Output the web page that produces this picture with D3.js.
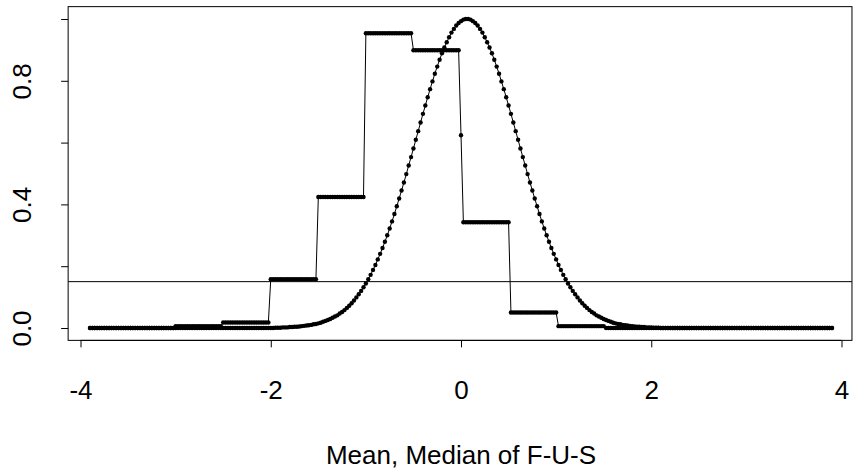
<!DOCTYPE html>
<html>
<head>
<meta charset="utf-8">
<script src="https://cdn.jsdelivr.net/npm/d3@7"></script>
<style>
  body { margin: 0; background: #fff; }
  svg text { font-family: "Liberation Sans", Arial, sans-serif; }
</style>
</head>
<body>
<div id="myspace"></div>
<script>
// sample grid (evenly spaced x, -3.9 .. 3.9)
var xStart = -3.9, xStep = 0.025, nPts = 313;

// bell shaped curve at every grid point
var normVals = [
  0,0,0,0,0,0,0,0,0,0, 0,0,0,0,0,0,0,0,0,0, 0,0,0,0,0,0,0,0,0,0,
  0,0,0,0,0,0,0,0,0,0, 0,0,0,0,0,0,0,0,0,0, 0,0,0,0,0,0,0,0,0,0,
  0,0,0,0,0,0,0,0,0,0, 0,0,0,0,0,0,0,0,
  .001,.001,.001,.002,.002,.002,.003,.003,.004,.004,
  .005,.006,.007,.008,.009,.010,.012,.013,.015,.017,
  .020,.023,.026,.029,.033,.037,.041,.047,.052,.058,
  .065,.072,.080,.089,.099,.109,.120,.132,.144,.158,
  .172,.188,.204,.222,.240,.259,.279,.300,.322,.345,
  .369,.394,.419,.445,.471,.498,.526,.553,.581,.609,
  .637,.665,.693,.720,.747,.773,.798,.823,.846,.868,
  .889,.908,.925,.941,.956,.968,.979,.987,.993,.998,
  1.000,
  1.000,
  .998,.993,.987,.979,.968,.956,.941,.925,.908,.889,
  .868,.846,.823,.798,.773,.747,.720,.693,.665,.637,
  .609,.581,.553,.526,.498,.471,.445,.419,.394,.369,
  .345,.322,.300,.279,.259,.240,.222,.204,.188,.172,
  .158,.144,.132,.120,.109,.099,.089,.080,.072,.065,
  .058,.052,.047,.041,.037,.033,.029,.026,.023,.020,
  .017,.015,.013,.012,.010,.009,.008,.007,.006,.005,
  .004,.004,.003,.003,.002,.002,.002,.001,.001,.001,
  0,0,0,0,0,0,0,0,0,0, 0,0,0,0,0,0,0,0,0,0, 0,0,0,0,0,0,0,0,0,0,
  0,0,0,0,0,0,0,0,0,0, 0,0,0,0,0,0,0,0,0,0, 0,0,0,0,0,0,0,0,0,0,
  0,0,0,0,0,0,0,0,0,0, 0,0,0
];

// step curve: edges and the level on each piece (x=0 has its own value)
var stepEdges = [-3, -2.5, -2, -1.5, -1, -0.5, 0, 0.5, 1, 1.5];
var stepLevels = [0, 0.006, 0.018, 0.158, 0.424, 0.954, 0.899, 0.342, 0.050, 0.006, 0];
var stepAtZero = 0.624;

var hLine = 0.15;

var xTicks = [-4, -2, 0, 2, 4];
var yTicks = [0, 0.2, 0.4, 0.6, 0.8, 1.0];
var yLabelled = [0, 0.4, 0.8];
var xTitle = 'Mean, Median of F-U-S';

var W = 858, H = 475;
var xlim = [-4.13, 4.11], ylim = [-0.04, 1.04];

var xScale = d3.scaleLinear().domain([-4, 4]).range([80.5, 841.5]);
var yScale = d3.scaleLinear().domain([0, 1]).range([328, 19]);

var svg = d3.select('#myspace').append('svg')
  .attr('width', W)
  .attr('height', H);

// build the two series on the grid
var gridX = d3.range(nPts).map(function(i){ return +(xStart + i * xStep).toFixed(3); });
var normData = gridX.map(function(x, i){ return [x, normVals[i]]; });
var stepData = gridX.map(function(x){
  var y;
  if (x === 0) y = stepAtZero;
  else if (x < 0) y = stepLevels[d3.bisectRight(stepEdges, x)];
  else y = stepLevels[d3.bisectLeft(stepEdges, x)];
  return [x, y];
});

// box
svg.append('rect')
  .attr('x', xScale(xlim[0]))
  .attr('y', yScale(ylim[1]))
  .attr('width', xScale(xlim[1]) - xScale(xlim[0]))
  .attr('height', yScale(ylim[0]) - yScale(ylim[1]))
  .attr('fill', 'none')
  .attr('stroke', '#000')
  .attr('stroke-width', 1);

// x axis
var xAxis = svg.append('g')
  .attr('transform', 'translate(0,' + yScale(ylim[0]) + ')')
  .call(d3.axisBottom(xScale).tickValues(xTicks).tickSize(7).tickSizeOuter(0).tickPadding(52)
    .tickFormat(function(d){ return d < 0 ? '-' + Math.abs(d) : d; }));
xAxis.select('.domain').remove();
svg.append('line')
  .attr('x1', xScale(xTicks[0])).attr('x2', xScale(xTicks[xTicks.length - 1]))
  .attr('y1', yScale(ylim[0])).attr('y2', yScale(ylim[0]))
  .attr('stroke', '#000');
xAxis.selectAll('text').attr('font-size', 26).attr('fill', '#000').attr('dy', 0);

// y axis
var yAxis = svg.append('g')
  .attr('transform', 'translate(' + xScale(xlim[0]) + ',0)')
  .call(d3.axisLeft(yScale).tickValues(yTicks).tickSize(7).tickSizeOuter(0)
    .tickFormat(function(d){ return yLabelled.indexOf(d) >= 0 ? d.toFixed(1) : ''; }));
yAxis.select('.domain').remove();
yAxis.selectAll('.tick text')
  .attr('font-size', 26)
  .attr('fill', '#000')
  .attr('x', 0).attr('dy', 0)
  .attr('text-anchor', 'middle')
  .attr('transform', 'translate(-37,0) rotate(-90)');

// horizontal reference line
svg.append('line')
  .attr('x1', xScale(xlim[0])).attr('x2', xScale(xlim[1]))
  .attr('y1', yScale(hLine)).attr('y2', yScale(hLine))
  .attr('stroke', '#000').attr('stroke-width', 1);

var line = d3.line()
  .x(function(d){ return xScale(d[0]); })
  .y(function(d){ return yScale(d[1]); });

[stepData, normData].forEach(function(series){
  svg.append('path')
    .datum(series)
    .attr('d', line)
    .attr('fill', 'none')
    .attr('stroke', '#000')
    .attr('stroke-width', 1);
  svg.append('g').selectAll('circle')
    .data(series)
    .enter()
    .append('circle')
    .attr('cx', function(d){ return xScale(d[0]); })
    .attr('cy', function(d){ return yScale(d[1]); })
    .attr('r', 2.2)
    .attr('fill', '#000');
});

// x title
svg.append('text')
  .attr('x', xScale(0))
  .attr('y', 464)
  .attr('text-anchor', 'middle')
  .attr('font-size', 26)
  .text(xTitle);
</script>
</body>
</html>
